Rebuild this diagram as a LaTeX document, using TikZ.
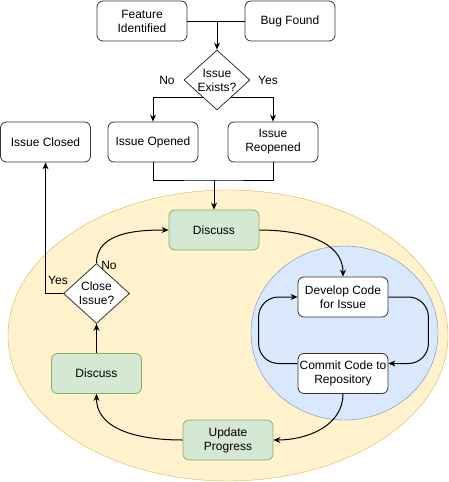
\documentclass[tikz,border=0pt]{standalone}
\usepackage{fontspec}
\setmainfont{Liberation Sans}
\usetikzlibrary{arrows.meta, positioning, shapes.geometric, backgrounds}

\definecolor{greenfill}{HTML}{D5E8D4}
\definecolor{greenline}{HTML}{82B366}
\definecolor{yellowfill}{HTML}{FFF2CC}
\definecolor{yellowline}{HTML}{D6B656}
\definecolor{bluefill}{HTML}{DAE8FC}
\definecolor{blueline}{HTML}{6C8EBF}
\definecolor{boxline}{HTML}{333333}

\begin{document}
\begin{tikzpicture}[
    x=1pt, y=1pt,
    font=\fontsize{12}{14}\selectfont,
    box/.style={rectangle, draw=boxline, line width=0.8pt, fill=white, rounded corners=6pt, minimum width=90pt, minimum height=40pt, align=center, inner sep=1pt},
    greenbox/.style={box, fill=greenfill, draw=greenline},
    decision/.style={diamond, draw=boxline, line width=0.8pt, fill=white, aspect=1.1, minimum width=66pt, minimum height=60pt, inner sep=-6pt, align=center},
    arrow/.style={-{Stealth[length=7pt, width=6pt]}, line width=1pt},
    line/.style={line width=1pt}
]
\useasboundingbox (0,0) rectangle (449,-482);

% loops
\node[ellipse, draw=yellowline, fill=yellowfill, minimum width=440pt, minimum height=291pt] (teamloop) at (228,-335.5) {};
\node[ellipse, draw=blueline, fill=bluefill, minimum width=187pt, minimum height=174pt] (devloop) at (344.5,-333) {};

% top
\node[box] (feature) at (142,-21) {Feature\\Identified};
\node[box] (bug) at (290,-21) {Bug Found};
\node[decision] (exists) at (217,-80) {Issue\\Exists?};
\node (nolabel) at (167,-80) {No};
\node (yeslabel) at (268,-80) {Yes};

\node[box] (closed) at (45.5,-142) {Issue Closed};
\node[box] (opened) at (153,-142) {Issue Opened};
\node[box] (reopened) at (273,-142) {Issue\\Reopened};

% inside
\node[greenbox] (discussup) at (214,-230) {Discuss};
\node[decision] (close) at (96.5,-293.5) {Close\\Issue?};
\node (closeyes) at (58,-280) {Yes};
\node (closeno) at (109,-265) {No};
\node[greenbox] (discussdown) at (96.5,-373.5) {Discuss};
\node[box] (develop) at (343,-297) {Develop Code\\for Issue};
\node[box] (commit) at (343,-373.5) {Commit Code to\\Repository};
\node[greenbox] (update) at (228,-440) {Update\\Progress};

\coordinate (split) at (216,-97);
\coordinate (merge) at (214,-180);

\begin{pgfonlayer}{background}
\draw[arrow] (split) -| (opened.north);
\draw[arrow] (split) -| (reopened.north);
\end{pgfonlayer}

\draw[line] (feature.east) -- (feature.east -| exists.north);
\draw[arrow] (bug.west) -| (exists.north);
\draw[line] (opened.south) |- (merge) -| (reopened.south);
\draw[arrow] (merge) -- (discussup.north);

\draw[arrow] (discussup.east) to[out=0, in=90] (develop.north);
\draw[arrow, rounded corners=20pt] (develop.east) -- ++(40,0) |- ([yshift=10pt]commit.east);
\draw[arrow, rounded corners=20pt] ([yshift=10pt]commit.west) -- ++(-39,0) |- (develop.west);
\draw[arrow] (commit.south) to[out=-90, in=0] (update.east);
\draw[arrow] (update.west) to[out=180, in=-90] (discussdown.south);
\draw[arrow] (discussdown.north) -- (close.south);
\draw[arrow] (close.north) to[out=90, in=180] (discussup.west);
\draw[arrow] (close.west) -| (closed.south);
\end{tikzpicture}
\end{document}
